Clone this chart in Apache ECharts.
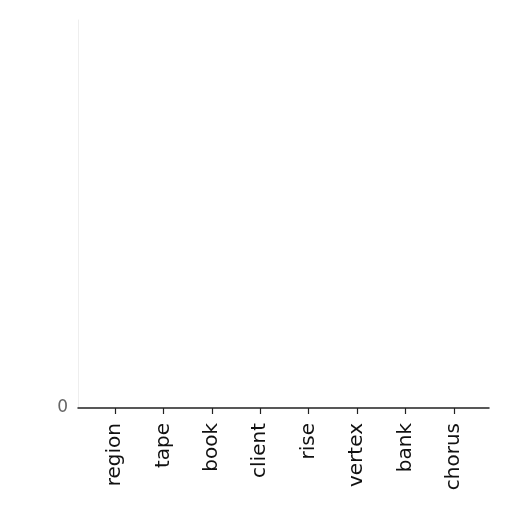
<!DOCTYPE html>
<html>
<head>
    <meta charset="UTF-8">
    <script src="https://cdn.jsdelivr.net/npm/echarts@6/dist/echarts.min.js"></script>
</head>
<body style="margin:0;background:#fff;">
    <div id="main" style="width: 512px; height: 512px;"></div>
    <script>
        // categories and values (all bars sit at zero)
        var categories = ['region', 'tape', 'book', 'client', 'rise', 'vertex', 'bank', 'chorus'];
        var values = [0, 0, 0, 0, 0, 0, 0, 0];
        var yTicks = [0];

        var myChart = echarts.init(document.getElementById('main'));

        var barData = [];
        for (var i = 0; i < categories.length; i++) {
            barData.push([i, values[i]]);
        }

        var option = {
            animation: false,
            backgroundColor: '#fff',
            grid: { left: 78, right: 23, top: 20, bottom: 104 },
            xAxis: {
                type: 'value',
                min: -0.76,
                max: 7.72,
                splitLine: { show: false },
                axisLine: { show: true, onZero: false, lineStyle: { color: '#222', width: 1.5 } },
                axisTick: {
                    show: true,
                    length: 6,
                    customValues: categories.map(function (c, i) { return i; }),
                    lineStyle: { color: '#222', width: 1.2 }
                },
                axisLabel: {
                    rotate: 90,
                    margin: 15,
                    fontSize: 20,
                    color: '#111',
                    fontFamily: 'DejaVu Sans',
                    customValues: categories.map(function (c, i) { return i; }),
                    formatter: function (v) { return categories[Math.round(v)]; }
                }
            },
            yAxis: {
                type: 'value',
                min: 0,
                max: 1,
                splitLine: { show: false },
                axisLine: { show: true, onZero: false, lineStyle: { color: '#eeeeee', width: 1 } },
                axisTick: { show: false },
                axisLabel: {
                    fontSize: 17,
                    color: '#666',
                    margin: 10,
                    fontFamily: 'DejaVu Sans',
                    customValues: yTicks
                }
            },
            series: [{
                type: 'bar',
                barWidth: 30,
                data: barData,
                itemStyle: { color: '#4c72b0' }
            }]
        };
        myChart.setOption(option);
    </script>
</body>
</html>
